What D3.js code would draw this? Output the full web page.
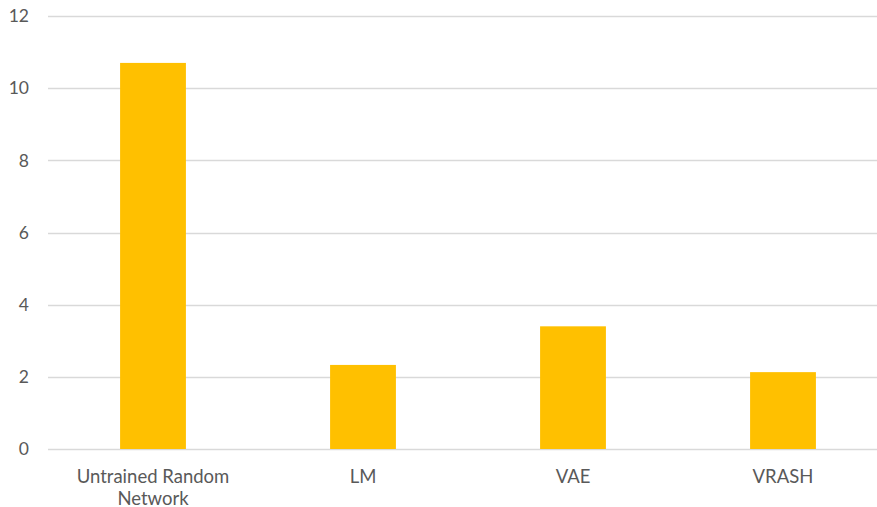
<!DOCTYPE html>
<html><head><meta charset="utf-8">
<script src="https://cdn.jsdelivr.net/npm/d3@7"></script>
<style>body{margin:0;background:#fff}svg{display:block}text{font-family:Lato,"Open Sans",sans-serif;fill:#595959}</style>
</head><body><svg id="c" width="877" height="507"></svg>
<script>
const categories = ["Untrained Random Network", "LM", "VAE", "VRASH"];
const labelLines = [["Untrained Random", "Network"], ["LM"], ["VAE"], ["VRASH"]];
const values = [10.7, 2.33, 3.40, 2.13];
const yTicks = [0, 2, 4, 6, 8, 10, 12];

const svg = d3.select("#c");
const m = {left: 48, right: 888, top: 16, bottom: 449};
const x = d3.scaleBand().domain(categories).range([m.left, m.right]).paddingInner(0).paddingOuter(0);
const y = d3.scaleLinear().domain([0, 12]).range([m.bottom, m.top]);
const barW = x.bandwidth() / 3.19;

svg.append("g").selectAll("line").data(yTicks).join("line")
  .attr("x1", m.left).attr("x2", 877)
  .attr("y1", d => Math.round(y(d)) + 0.5).attr("y2", d => Math.round(y(d)) + 0.5)
  .attr("stroke", "#d9d9d9").attr("stroke-width", 1.5);

svg.append("g").selectAll("text").data(yTicks).join("text")
  .attr("x", 29).attr("y", d => y(d)).attr("dy", "0.36em")
  .attr("text-anchor", "end").attr("font-size", 17.5).text(d => d);

svg.append("g").selectAll("rect").data(values).join("rect")
  .attr("x", (d, i) => x(categories[i]) + (x.bandwidth() - barW) / 2)
  .attr("width", barW)
  .attr("y", d => y(d)).attr("height", d => y(0) - y(d))
  .attr("fill", "#FFC000");

const lab = svg.append("g").selectAll("text").data(categories).join("text")
  .attr("x", d => x(d) + x.bandwidth() / 2).attr("y", 483)
  .attr("text-anchor", "middle").attr("font-size", 18.5);
lab.each(function(d, i) {
  d3.select(this).selectAll("tspan").data(labelLines[i]).join("tspan")
    .attr("x", x(d) + x.bandwidth() / 2).attr("dy", (t, j) => j === 0 ? 0 : 21.5).text(t => t);
});
</script></body></html>
